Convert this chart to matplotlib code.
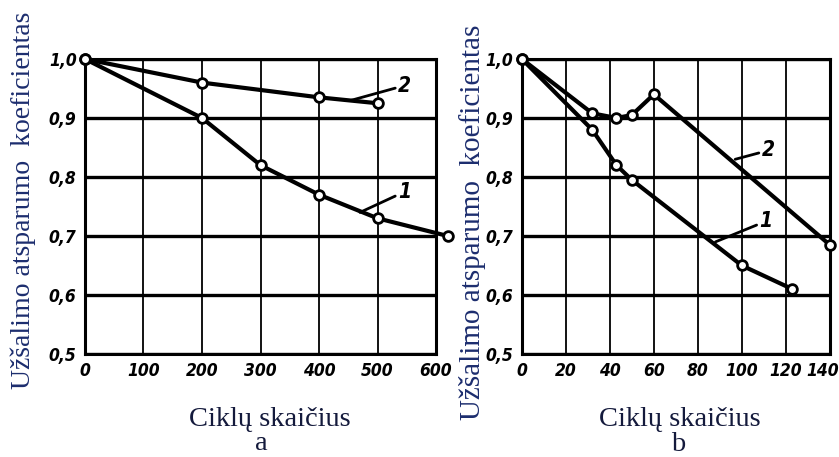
import matplotlib.pyplot as plt
import matplotlib.transforms as mtransforms

# a skydelis
a_x1 = [0, 200, 300, 400, 500, 620]
a_y1 = [1.0, 0.90, 0.82, 0.77, 0.73, 0.70]
a_x2 = [0, 200, 400, 500]
a_y2 = [1.0, 0.96, 0.935, 0.925]
a_xticks = [0, 100, 200, 300, 400, 500, 600]

# b skydelis
b_x1 = [0, 32, 43, 50, 100, 123]
b_y1 = [1.0, 0.88, 0.82, 0.795, 0.65, 0.61]
b_x2 = [0, 32, 43, 50, 60, 140]
b_y2 = [1.0, 0.908, 0.90, 0.905, 0.94, 0.685]
b_xticks = [0, 20, 40, 60, 80, 100, 120, 140]

yticks = [0.5, 0.6, 0.7, 0.8, 0.9, 1.0]
ytick_labels = ['0,5', '0,6', '0,7', '0,8', '0,9', '1,0']

tick_font = dict(family='DejaVu Sans', stretch='condensed', weight='bold', style='italic', size=12.5)
label_font = dict(family=['Liberation Serif', 'DejaVu Serif'])
ylab_color = '#1c2d6e'
xlab_color = '#141a3c'

fig = plt.figure(figsize=(8.39, 4.57), dpi=100)
ax_a = fig.add_axes([0.1013, 0.2254, 0.4184, 0.6455])
ax_b = fig.add_axes([0.622, 0.2254, 0.367, 0.6455])


def style_axes(ax, xticks, xmax):
    ax.set_xlim(0, xmax)
    ax.set_ylim(0.5, 1.0)
    ax.set_xticks(xticks)
    ax.set_xticklabels([str(t) for t in xticks], **tick_font)
    ax.set_yticks(yticks)
    ax.set_yticklabels(ytick_labels, **tick_font)
    ax.tick_params(length=0, pad=6)
    for t in yticks:
        ax.axhline(t, color='black', lw=2.4, zorder=1)
    for t in xticks:
        ax.axvline(t, color='black', lw=1.3, zorder=1)
    for s in ax.spines.values():
        s.set_linewidth(2.2)


def draw_line(ax, x, y):
    ax.plot(x, y, color='black', lw=3, marker='o', ms=7, mfc='white',
            mec='black', mew=2, zorder=3, clip_on=False)


style_axes(ax_a, a_xticks, 600)
style_axes(ax_b, b_xticks, 140)

# paskutini "140" truputi i kaire, kad tilptu
last = ax_b.get_xticklabels()[-1]
last.set_transform(last.get_transform() + mtransforms.ScaledTranslation(-5 / 72, 0, fig.dpi_scale_trans))

draw_line(ax_a, a_x1, a_y1)
draw_line(ax_a, a_x2, a_y2)
draw_line(ax_b, b_x1, b_y1)
draw_line(ax_b, b_x2, b_y2)

num_font = dict(family='DejaVu Sans', stretch='condensed', weight='bold', style='italic', size=15)
leader = dict(arrowstyle='-', lw=2, color='black', shrinkA=0, shrinkB=0)
# kreiviu numeriai
ax_a.annotate('2', xy=(455, 0.93), xytext=(535, 0.955), va='center', arrowprops=leader, **num_font)
ax_a.annotate('1', xy=(470, 0.74), xytext=(535, 0.775), va='center', arrowprops=leader, **num_font)
ax_b.annotate('2', xy=(97, 0.83), xytext=(109, 0.845), va='center', arrowprops=leader, **num_font)
ax_b.annotate('1', xy=(88, 0.69), xytext=(108, 0.725), va='center', arrowprops=leader, **num_font)

# asiu pavadinimai
ylab = 'Užšalimo atsparumo  koeficientas'
fig.text(0.028, 0.562, ylab, rotation=90, ha='center', va='center', color=ylab_color, size=20, **label_font)
fig.text(0.5626, 0.514, ylab, rotation=90, ha='center', va='center', color=ylab_color, size=21, **label_font)
fig.text(0.321, 0.083, 'Ciklų skaičius', ha='center', va='center', color=xlab_color, size=20.5, **label_font)
fig.text(0.312, 0.03, 'a', ha='center', va='center', color=xlab_color, size=20.5, **label_font)
fig.text(0.81, 0.083, 'Ciklų skaičius', ha='center', va='center', color=xlab_color, size=20.5, **label_font)
fig.text(0.808, 0.027, 'b', ha='center', va='center', color=xlab_color, size=20.5, **label_font)

plt.savefig('out.png', dpi=100)
